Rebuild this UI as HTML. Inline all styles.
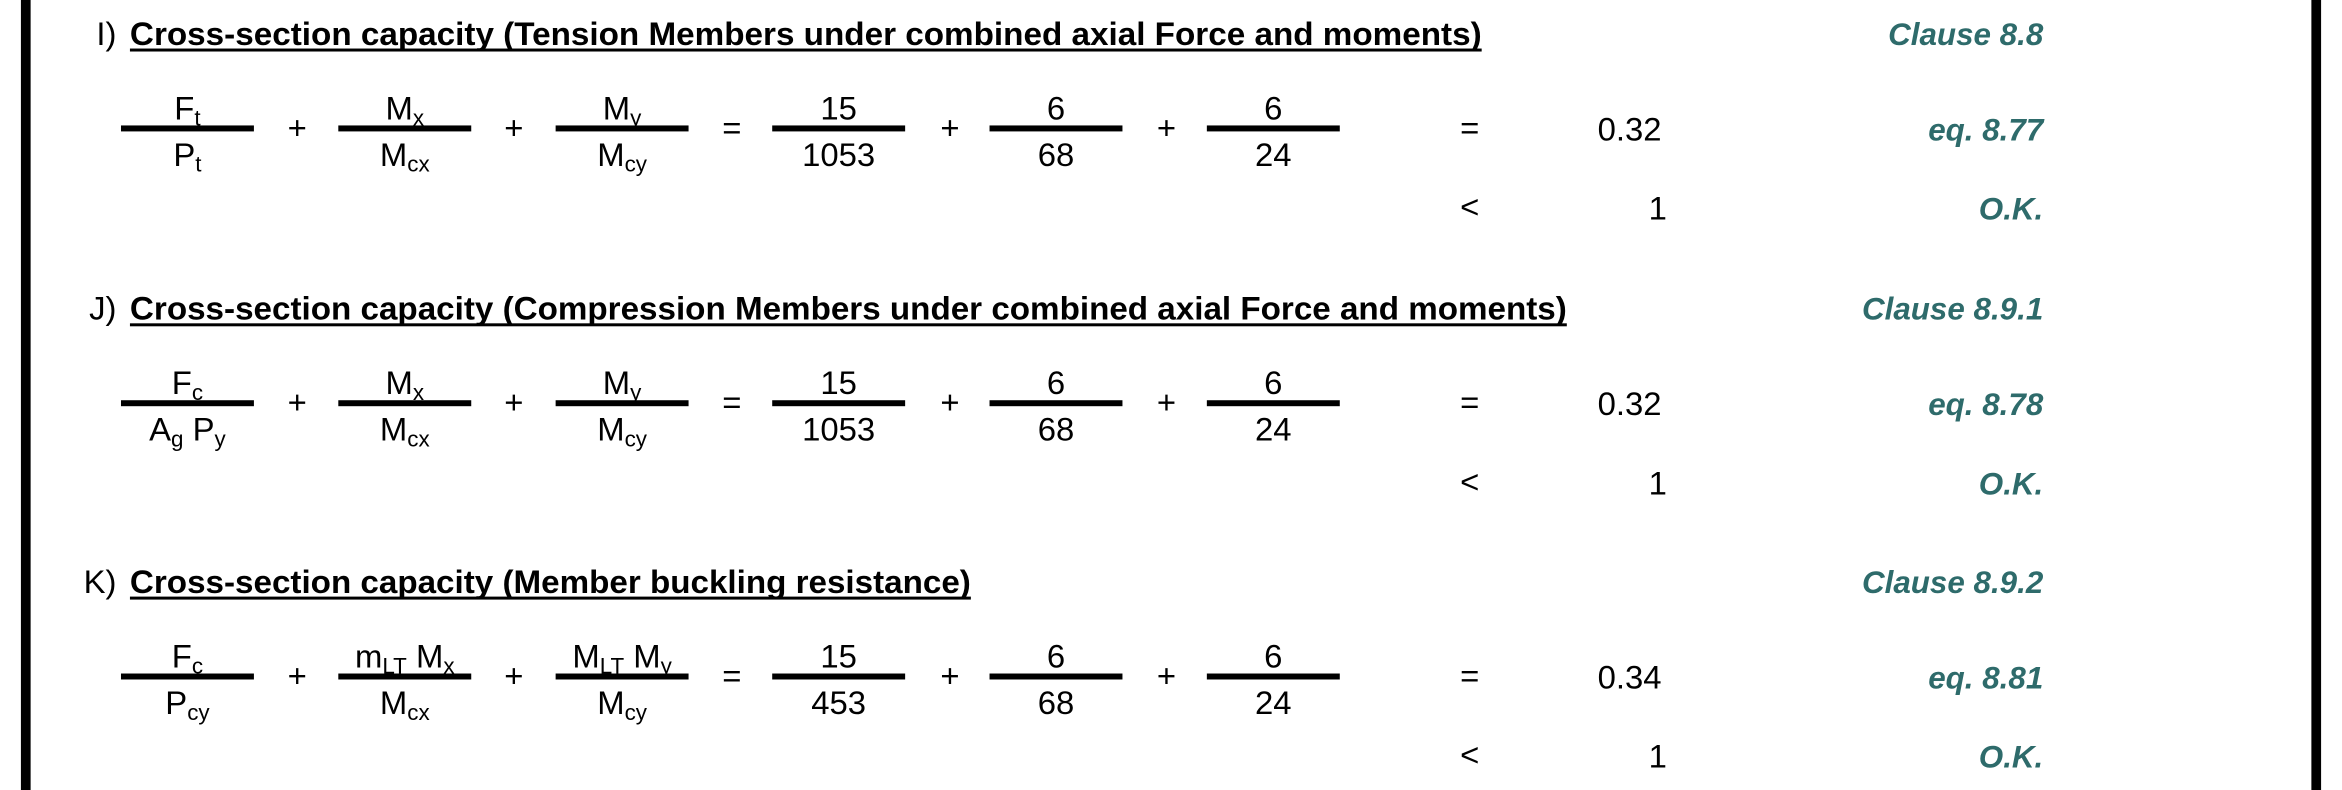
<!DOCTYPE html>
<html><head><meta charset="utf-8"><style>
html,body{margin:0;padding:0;background:#fff;}
svg{display:block;}
text{font-family:"Liberation Sans",Arial,sans-serif;fill:#000;}
.t{font-weight:bold;font-size:22px;}
.c{font-weight:bold;font-style:italic;font-size:21px;fill:#2e6b6b;}
.n{font-size:22px;}
</style></head><body>
<svg width="2342" height="790" viewBox="0 0 1568 529" preserveAspectRatio="none" xmlns="http://www.w3.org/2000/svg">
<rect x="14" y="0" width="6.5" height="529" fill="#000"/>
<rect x="1547.5" y="0" width="6.5" height="529" fill="#000"/>
<g id="content"></g>
</svg>
<script>
const sectionLabels=["I)","J)","K)"];
const titles=["Cross-section capacity (Tension Members under combined axial Force and moments)","Cross-section capacity (Compression Members under combined axial Force and moments)","Cross-section capacity (Member buckling resistance)"];
const titleLen=[905,962,563];
const clauses=["Clause 8.8","Clause 8.9.1","Clause 8.9.2"];
const eqRefs=["eq. 8.77","eq. 8.78","eq. 8.81"];
const results=["0.32","0.32","0.34"];
const numVals=[["15","6","6"],["15","6","6"],["15","6","6"]];
const denVals=[["1053","68","24"],["1053","68","24"],["453","68","24"]];
const symNum=[
 [[["F",""],["t","s"]],[["M",""],["x","s"]],[["M",""],["y","s"]]],
 [[["F",""],["c","s"]],[["M",""],["x","s"]],[["M",""],["y","s"]]],
 [[["F",""],["c","s"]],[["m",""],["LT","s"],[" M",""],["x","s"]],[["M",""],["LT","s"],[" M",""],["y","s"]]]
];
const symDen=[
 [[["P",""],["t","s"]],[["M",""],["cx","s"]],[["M",""],["cy","s"]]],
 [[["A",""],["g","s"],[" P",""],["y","s"]],[["M",""],["cx","s"]],[["M",""],["cy","s"]]],
 [[["P",""],["cy","s"]],[["M",""],["cx","s"]],[["M",""],["cy","s"]]]
];
const NS="http://www.w3.org/2000/svg";
const g=document.getElementById('content');
const sectionTop=[29,213,396];
const fracCx=[125.5,271,416.5,561.5,707,852.5];
const plusX=[199,344,636,781];
function txt(x,y,s,cls,anchor){const t=document.createElementNS(NS,'text');t.setAttribute('x',x);t.setAttribute('y',y);if(cls)t.setAttribute('class',cls);t.setAttribute('text-anchor',anchor||'middle');t.textContent=s;g.appendChild(t);return t;}
function rich(x,y,parts){const t=document.createElementNS(NS,'text');t.setAttribute('x',x);t.setAttribute('y',y);t.setAttribute('class','n');t.setAttribute('text-anchor','middle');
 parts.forEach(p=>{const s=document.createElementNS(NS,'tspan');s.textContent=p[0];if(p[1]==='s'){s.setAttribute('font-size','15');s.setAttribute('dy','4');}else if(t.childNodes.length){s.setAttribute('dy','-4');}t.appendChild(s);});
 g.appendChild(t);return t;}
function bar(cx,y){const r=document.createElementNS(NS,'rect');r.setAttribute('x',cx-44.5);r.setAttribute('y',y-2);r.setAttribute('width',89);r.setAttribute('height',4);r.setAttribute('fill','#000');g.appendChild(r);return r;}
sectionLabels.forEach((lab,i)=>{
 const ty=sectionTop[i]+1, by=sectionTop[i]+57;
 let e=txt(78,ty,lab,'n','end');e.setAttribute('font-size','21');
 
 
 e=txt(87,ty,titles[i],'t','start');e.setAttribute('textLength',titleLen[i]);e.setAttribute('lengthAdjust','spacingAndGlyphs');
 
 
 const u=document.createElementNS(NS,'rect');u.setAttribute('x',87);u.setAttribute('y',ty+2.5);u.setAttribute('width',titleLen[i]);u.setAttribute('height',2);u.setAttribute('fill','#000');g.appendChild(u);
 
 
 e=txt(1368,ty,clauses[i],'c','end');
 
 
 for(let k=0;k<6;k++){
  const b=bar(fracCx[k],by);
  
  
  let nm,dn;
  if(k<3){nm=rich(fracCx[k],by-6,symNum[i][k]);dn=rich(fracCx[k],by+25,symDen[i][k]);}
  else{nm=txt(fracCx[k],by-6,numVals[i][k-3],'n');dn=txt(fracCx[k],by+25,denVals[i][k-3],'n');}
  
  
  
  
 }
 plusX.forEach(px=>{const p=txt(px,by+7,'+','n');
  
  });
 e=txt(490,by+7,'=','n');
 
 
 e=txt(984,by+7,'=','n');
 
 
 e=txt(1091,by+8,results[i],'n');
 
 
 e=txt(1368,by+8,eqRefs[i],'c','end');
 
 
 e=txt(984,by+60,'<','n');
 
 
 e=txt(1116,by+61,'1','n','end');
 
 
 e=txt(1368,by+61,'O.K.','c','end');
 
 
});
</script>
</body></html>
